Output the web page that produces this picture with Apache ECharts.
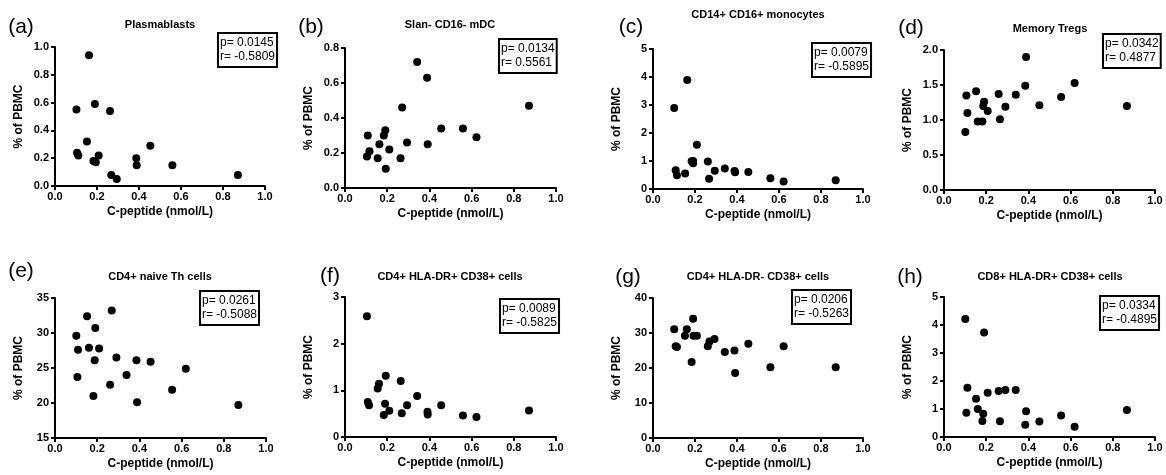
<!DOCTYPE html>
<html>
<head>
<meta charset="utf-8">
<script src="https://cdn.jsdelivr.net/npm/echarts@6/dist/echarts.min.js"></script>
<style>
  html, body { margin: 0; padding: 0; background: #fff; }
  #chart-container { width: 1166px; height: 475px; }
</style>
</head>
<body>
<div id="chart-container"></div>
<script>
var dom = document.getElementById("chart-container");
var myChart = echarts.init(dom, null, { renderer: "canvas" });

// x = C-peptide (nmol/L), y = % of PBMC
const plasmablasts = [
  [0.162, 0.94], [0.102, 0.55], [0.19, 0.59], [0.262, 0.54], [0.152, 0.32],
  [0.454, 0.29], [0.105, 0.24], [0.111, 0.22], [0.208, 0.22], [0.183, 0.18],
  [0.194, 0.17], [0.387, 0.20], [0.389, 0.15], [0.559, 0.15], [0.268, 0.08],
  [0.294, 0.05], [0.871, 0.08]
];
const slanMdc = [
  [0.342, 0.72], [0.389, 0.63], [0.271, 0.46], [0.872, 0.47], [0.108, 0.30],
  [0.191, 0.33], [0.184, 0.30], [0.163, 0.25], [0.456, 0.34], [0.559, 0.34],
  [0.623, 0.29], [0.116, 0.21], [0.104, 0.18], [0.21, 0.22], [0.155, 0.17],
  [0.294, 0.26], [0.392, 0.25], [0.263, 0.17], [0.193, 0.11]
];
const monocytes = [
  [0.101, 2.89], [0.163, 3.89], [0.209, 1.58], [0.108, 0.67], [0.114, 0.49],
  [0.153, 0.55], [0.184, 0.99], [0.191, 1.0], [0.191, 0.92], [0.261, 0.98],
  [0.267, 0.37], [0.294, 0.65], [0.342, 0.73], [0.388, 0.64], [0.391, 0.60],
  [0.454, 0.61], [0.559, 0.38], [0.622, 0.27], [0.87, 0.31]
];
const memoryTregs = [
  [0.389, 1.90], [0.385, 1.49], [0.619, 1.53], [0.106, 1.35], [0.152, 1.41],
  [0.259, 1.37], [0.34, 1.36], [0.555, 1.33], [0.19, 1.26], [0.186, 1.20],
  [0.207, 1.13], [0.291, 1.19], [0.452, 1.21], [0.867, 1.20], [0.111, 1.10],
  [0.16, 0.98], [0.182, 0.98], [0.265, 1.01], [0.101, 0.83]
];
const naiveTh = [
  [0.269, 33.2], [0.152, 32.4], [0.191, 30.7], [0.101, 29.6], [0.109, 27.6],
  [0.161, 27.9], [0.209, 27.8], [0.188, 26.1], [0.291, 26.5], [0.386, 26.1],
  [0.453, 25.9], [0.62, 24.9], [0.339, 24.0], [0.106, 23.7], [0.261, 22.6],
  [0.555, 21.9], [0.182, 21.0], [0.389, 20.1], [0.869, 19.7]
];
const cd4DrPos = [
  [0.104, 2.59], [0.193, 1.31], [0.264, 1.20], [0.161, 1.14], [0.155, 1.04],
  [0.342, 0.88], [0.108, 0.75], [0.114, 0.68], [0.19, 0.71], [0.294, 0.68],
  [0.456, 0.68], [0.21, 0.56], [0.184, 0.47], [0.269, 0.51], [0.391, 0.54],
  [0.392, 0.48], [0.559, 0.46], [0.623, 0.43], [0.872, 0.57]
];
const cd4DrNeg = [
  [0.191, 34.1], [0.101, 31.1], [0.161, 31.1], [0.152, 29.2], [0.193, 29.2],
  [0.209, 29.2], [0.293, 28.3], [0.269, 27.6], [0.108, 26.2], [0.114, 26.0],
  [0.261, 26.2], [0.454, 26.9], [0.622, 26.2], [0.342, 24.6], [0.388, 25.0],
  [0.184, 21.7], [0.559, 20.2], [0.87, 20.2], [0.391, 18.6]
];
const cd8DrPos = [
  [0.101, 4.21], [0.19, 3.73], [0.111, 1.76], [0.207, 1.58], [0.259, 1.64],
  [0.291, 1.68], [0.34, 1.68], [0.152, 1.37], [0.16, 1.0], [0.106, 0.87],
  [0.186, 0.83], [0.182, 0.57], [0.389, 0.92], [0.265, 0.56], [0.452, 0.55],
  [0.385, 0.44], [0.555, 0.77], [0.619, 0.37], [0.867, 0.96]
];

const panelData = [plasmablasts, slanMdc, monocytes, memoryTregs, naiveTh, cd4DrPos, cd4DrNeg, cd8DrPos];
const panelTitles = ["Plasmablasts", "Slan- CD16- mDC", "CD14+ CD16+ monocytes", "Memory Tregs",
  "CD4+ naive Th cells", "CD4+ HLA-DR+ CD38+ cells", "CD4+ HLA-DR- CD38+ cells", "CD8+ HLA-DR+ CD38+ cells"];
const panelLetters = ["(a)", "(b)", "(c)", "(d)", "(e)", "(f)", "(g)", "(h)"];
const pValues = ["0.0145", "0.0134", "0.0079", "0.0342", "0.0261", "0.0089", "0.0206", "0.0334"];
const rValues = ["-0.5809", "0.5561", "-0.5895", "0.4877", "-0.5088", "-0.5825", "-0.5263", "-0.4895"];
const yMin = [0, 0, 0, 0, 15, 0, 0, 0];
const yMax = [1, 0.8, 5, 2, 35, 3, 40, 5];
const yStep = [0.2, 0.2, 1, 0.5, 5, 1, 10, 1];
const yDecimals = [1, 1, 0, 1, 0, 0, 0, 0];

// layout (pixels)
const grids = [
  { left: 55, top: 47, width: 210, height: 139 },
  { left: 345, top: 48, width: 211, height: 140 },
  { left: 653, top: 49, width: 210, height: 140 },
  { left: 944, top: 50, width: 211, height: 140 },
  { left: 55, top: 298, width: 211, height: 140 },
  { left: 345, top: 297, width: 211, height: 140 },
  { left: 653, top: 298, width: 210, height: 140 },
  { left: 944, top: 297, width: 211, height: 140 }
];
const letterPos = [[21, 27], [311, 27], [631, 27], [911, 28], [21, 271], [330, 276], [628, 277], [910, 277]];
const titlePos = [[160, 25], [450, 25], [758, 15], [1050, 29], [160, 277], [450, 277], [758, 277], [1050, 277]];
const boxPos = [[218, 33], [499, 39], [812, 43], [1103, 34], [200, 291], [500, 299], [792, 290], [1100, 296]];

const font = '"Liberation Sans", Arial, sans-serif';
const axisLine = { show: true, lineStyle: { color: "#000", width: 2 } };
const axisTick = { show: true, inside: false, length: 4, lineStyle: { color: "#000", width: 2 } };

const xAxis = grids.map((g, i) => ({
  gridIndex: i,
  type: "value",
  min: 0,
  max: 1,
  interval: 0.2,
  name: "C-peptide (nmol/L)",
  nameLocation: "middle",
  nameGap: 20,
  nameTextStyle: { fontFamily: font, fontWeight: "bold", fontSize: 12, color: "#000" },
  axisLine,
  axisTick,
  splitLine: { show: false },
  axisLabel: {
    margin: 5,
    fontFamily: font,
    fontWeight: "bold",
    fontSize: 11,
    color: "#000",
    formatter: (v) => v.toFixed(1),
  },
}));

const yAxis = grids.map((g, i) => ({
  gridIndex: i,
  type: "value",
  min: yMin[i],
  max: yMax[i],
  interval: yStep[i],
  name: "% of PBMC",
  nameLocation: "middle",
  nameGap: 30,
  nameTextStyle: { fontFamily: font, fontWeight: "bold", fontSize: 12, color: "#000" },
  axisLine,
  axisTick,
  splitLine: { show: false },
  axisLabel: {
    margin: 6,
    fontFamily: font,
    fontWeight: "bold",
    fontSize: 11,
    color: "#000",
    formatter: (v) => v.toFixed(yDecimals[i]),
  },
}));

const series = panelData.map((d, i) => ({
  type: "scatter",
  xAxisIndex: i,
  yAxisIndex: i,
  symbolSize: 8,
  itemStyle: { color: "#000", opacity: 1 },
  data: d,
}));

const graphic = [];
panelData.forEach((d, i) => {
  graphic.push({
    type: "text",
    style: {
      x: letterPos[i][0], y: letterPos[i][1],
      text: panelLetters[i],
      align: "center", verticalAlign: "middle",
      font: "21px " + font, fill: "#000",
    },
  });
  graphic.push({
    type: "text",
    style: {
      x: titlePos[i][0], y: titlePos[i][1],
      text: panelTitles[i],
      align: "center", verticalAlign: "middle",
      font: "bold 11px " + font, fill: "#000",
    },
  });
  graphic.push({
    type: "text",
    style: {
      x: boxPos[i][0], y: boxPos[i][1],
      text: "p= " + pValues[i] + "\nr= " + rValues[i],
      align: "left", verticalAlign: "top",
      font: "12px " + font, fill: "#000",
      lineHeight: 14,
      padding: [3, 2, 3, 2],
      borderColor: "#000",
      borderWidth: 2,
    },
  });
});

var option = {
  backgroundColor: "#fff",
  animation: false,
  grid: grids,
  xAxis,
  yAxis,
  series,
  graphic,
};

myChart.setOption(option);
window.addEventListener("resize", myChart.resize);
</script>
</body>
</html>
